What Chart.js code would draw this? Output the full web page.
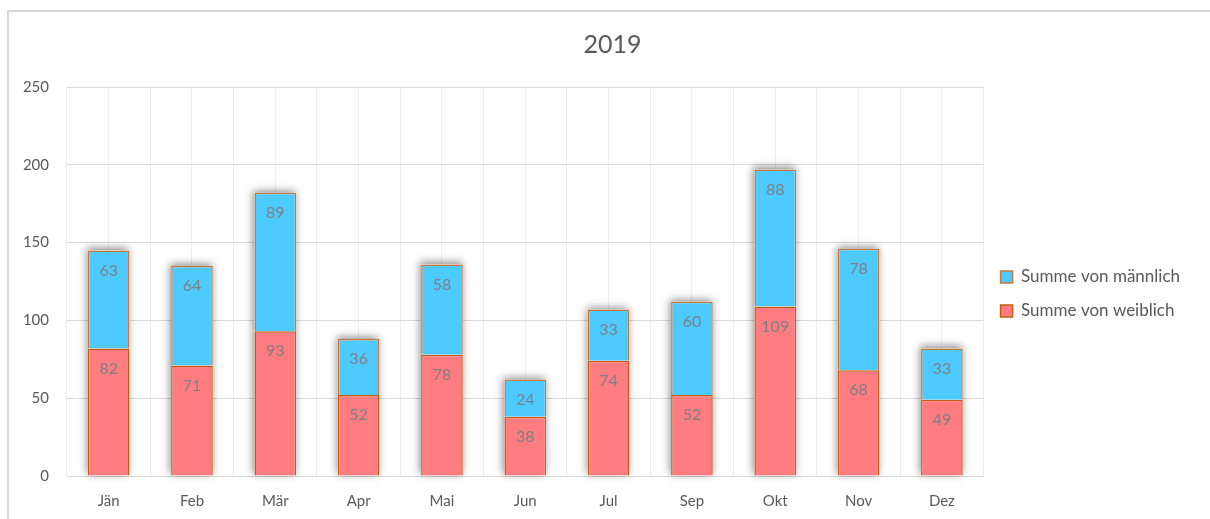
<!DOCTYPE html>
<html>
<head>
<meta charset="utf-8">
<script src="https://cdn.jsdelivr.net/npm/chart.js@4.4.1/dist/chart.umd.min.js"></script>
<style>
    body { margin: 0; background: #fff; }
    #wrap {
        position: absolute; left: 7px; top: 10px;
        width: 1203px; height: 509px;
        border-top: 2px solid #d9d9d9; border-left: 2px solid #d9d9d9;
    }
</style>
</head>
<body>
<div id="wrap"><canvas id="chart"></canvas></div>
<script>
const monate = ['Jän', 'Feb', 'Mär', 'Apr', 'Mai', 'Jun', 'Jul', 'Sep', 'Okt', 'Nov', 'Dez'];
const weiblich = [82, 71, 93, 52, 78, 38, 74, 52, 109, 68, 49];
const maennlich = [63, 64, 89, 36, 58, 24, 33, 60, 88, 78, 33];
const yTicks = [0, 50, 100, 150, 200, 250];
const titel = '2019';

const grau = '#595959';
const schrift = 'Lato, "Open Sans", sans-serif';

// Titel ueber die ganze Breite zentriert (nicht nur links vom Rand-Padding)
const ueberschrift = {
    id: 'ueberschrift',
    afterDraw(chart) {
        const ctx = chart.ctx;
        ctx.save();
        ctx.font = '25px ' + schrift;
        ctx.fillStyle = grau;
        ctx.textAlign = 'center';
        ctx.textBaseline = 'middle';
        ctx.fillText(titel, chart.width / 2 + 2, 33);
        ctx.restore();
    }
};

// Schatten hinter den ganzen Saeulen (Balken selbst clippen ihn weg)
const schatten = {
    id: 'schatten',
    beforeDatasetsDraw(chart) {
        const ctx = chart.ctx;
        const unten = chart.getDatasetMeta(0).data;
        const oben = chart.getDatasetMeta(1).data;
        ctx.save();
        ctx.shadowColor = 'rgba(0,0,0,0.45)';
        ctx.shadowBlur = 8;
        ctx.shadowOffsetX = -1;
        ctx.shadowOffsetY = -2;
        ctx.fillStyle = '#ffffff';
        unten.forEach((bar, j) => {
            const top = oben[j].y;
            ctx.fillRect(bar.x - bar.width / 2, top, bar.width, bar.base - top);
        });
        ctx.restore();
    }
};

// Werte in den Balken
const werte = {
    id: 'werte',
    afterDatasetsDraw(chart) {
        const ctx = chart.ctx;
        ctx.save();
        ctx.font = '16px ' + schrift;
        ctx.fillStyle = '#7f7f86';
        ctx.textAlign = 'center';
        ctx.textBaseline = 'middle';
        chart.data.datasets.forEach((ds, i) => {
            chart.getDatasetMeta(i).data.forEach((bar, j) => {
                ctx.fillText(ds.data[j], bar.x, bar.y + 20);
            });
        });
        ctx.restore();
    }
};

new Chart(document.getElementById('chart'), {
    type: 'bar',
    data: {
        labels: monate,
        datasets: [{
                label: 'Summe von weiblich',
                data: weiblich,
                backgroundColor: '#ff7c80',
                borderColor: '#c55a11',
                borderWidth: 1.5
            }, {
                label: 'Summe von männlich',
                data: maennlich,
                backgroundColor: '#4dcbff',
                borderColor: '#c9773f',
                borderWidth: 1.5
            }]
    },
    options: {
        responsive: true,
        maintainAspectRatio: false,
        animation: false,
        layout: { padding: { left: 0, right: 22, top: 75, bottom: -5 } },
        categoryPercentage: 0.5,
        barPercentage: 1,
        plugins: {
            title: { display: false },
            legend: {
                position: 'right',
                align: 'start',
                reverse: true,
                title: { display: true, text: ' ', padding: 75, font: { size: 12 } },
                labels: {
                    color: grau,
                    font: { family: schrift, size: 17 },
                    boxWidth: 12,
                    boxHeight: 12,
                    padding: 17
                }
            },
            tooltip: { enabled: false }
        },
        scales: {
            x: {
                stacked: true,
                grid: { offset: true, color: '#ececec', drawTicks: false },
                border: { color: '#d9d9d9' },
                ticks: { color: grau, font: { family: schrift, size: 15 }, padding: 16 }
            },
            x2: {
                type: 'category',
                labels: monate,
                offset: true,
                position: 'bottom',
                grid: { offset: false, color: '#efefef', drawTicks: false },
                border: { display: false },
                ticks: { display: false },
                afterFit(s) { s.height = 0; }
            },
            y: {
                stacked: true,
                min: 0,
                max: 250,
                afterBuildTicks(s) { s.ticks = yTicks.map(v => ({ value: v })); },
                grid: { color: '#d9d9d9', drawTicks: false },
                border: { display: false },
                ticks: { color: grau, font: { family: schrift, size: 15 }, padding: 18 },
                afterFit(s) { s.width = 58; }
            }
        }
    },
    plugins: [schatten, werte, ueberschrift]
});
</script>
</body>
</html>
